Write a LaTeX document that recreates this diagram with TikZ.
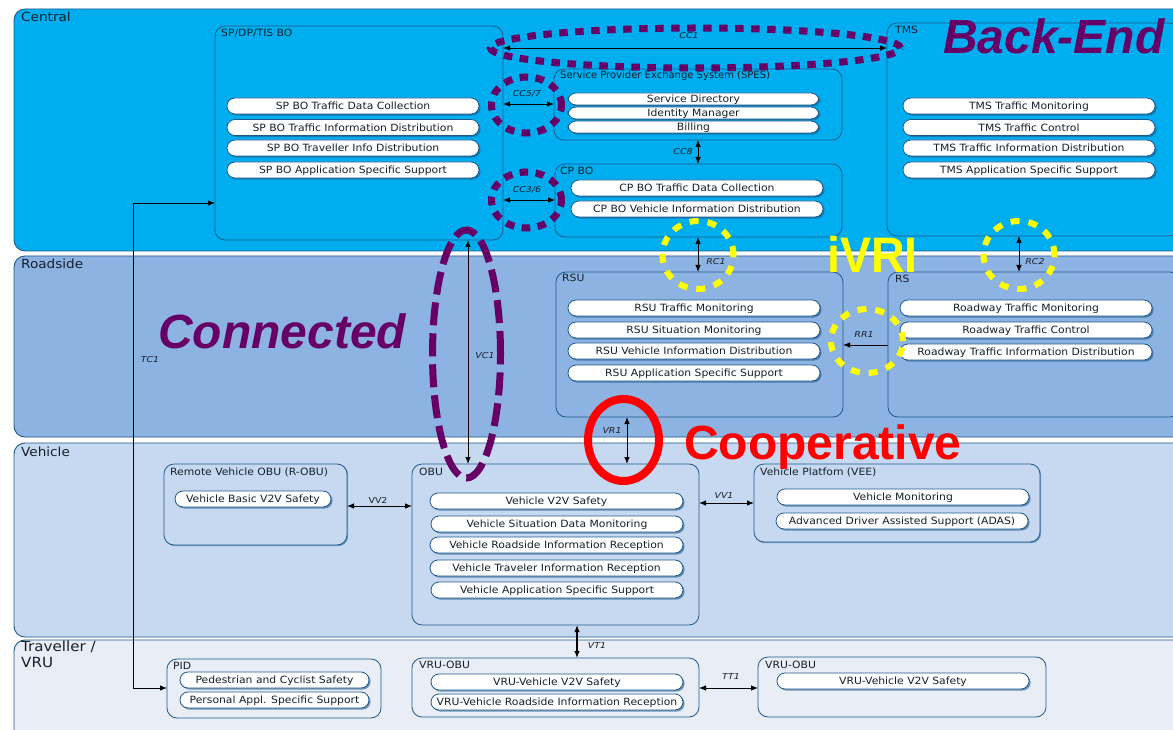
\documentclass[tikz,border=0pt]{standalone}
\usepackage{fontspec}
\setmainfont{DejaVu Sans}
\newfontfamily\bigfont{Liberation Sans}
\newfontfamily\wideface[FakeStretch=1.08]{DejaVu Sans}
\newfontfamily\widerface[FakeStretch=1.15]{DejaVu Sans}
\usetikzlibrary{arrows.meta,shadows}
\definecolor{cCentral}{HTML}{00AEEF}
\definecolor{cRoad}{HTML}{8DB3E2}
\definecolor{cVeh}{HTML}{C6D9F1}
\definecolor{cTrav}{HTML}{E9EEF6}
\definecolor{cEdge}{HTML}{1F5A8C}
\definecolor{cPurple}{HTML}{660066}
\definecolor{cInk}{HTML}{15202B}
\definecolor{cYel}{HTML}{FFFF00}
\tikzset{
  x=1pt,y=-1pt,
  band/.style={draw=cEdge,line width=0.9pt,rounded corners=11pt,inner sep=0,outer sep=0},
  sysbox/.style={draw=cEdge,line width=0.8pt,rounded corners=10pt,inner sep=0,outer sep=0},
  shadowbox/.style={sysbox,fill=cVeh,drop shadow={shadow xshift=1.2pt,shadow yshift=-1.2pt,fill=cEdge,opacity=.5}},
  pill/.style={draw=cEdge,fill=white,line width=0.8pt,rounded corners=8pt,inner sep=0,outer sep=0,
    text=cInk,font=\wideface\fontsize{10}{11}\selectfont,text height=7.6pt,text depth=0.4pt,
    drop shadow={shadow xshift=1.6pt,shadow yshift=-1.6pt,fill=cEdge,opacity=.6}},
  boxlabel/.style={anchor=west,inner sep=0,text=cInk,font=\wideface\fontsize{10}{11}\selectfont},
  bandlabel/.style={anchor=west,inner sep=0,text=cInk,font=\wideface\fontsize{12.6}{15}\selectfont,align=left},
  iflabel/.style={inner sep=0,text=cInk,font=\widerface\fontsize{8.2}{9}\selectfont\itshape},
  link/.style={draw=black,line width=0.8pt,{Latex[length=7pt,width=5.5pt]}-{Latex[length=7pt,width=5.5pt]}},
  linkone/.style={draw=black,line width=0.8pt,-{Latex[length=7pt,width=5.5pt]}},
  purpring/.style={draw=cPurple,line width=7pt,dash pattern=on 8.5pt off 7.5pt},
  purplong/.style={draw=cPurple,line width=7pt,dash pattern=on 23pt off 8pt},
  yelring/.style={draw=cYel,line width=6pt,dash pattern=on 9pt off 9pt},
  redring/.style={draw=red,line width=8pt},
  bigword/.style={inner sep=0,anchor=west,text depth=0pt,font=\fontsize{48}{50}\bigfont\bfseries},
}
\newcommand{\bx}[7][]{% name x1 y1 x2 y2 style
  \pgfmathsetmacro{\bw}{#5-#3}\pgfmathsetmacro{\bh}{#6-#4}
  \pgfmathsetmacro{\cxx}{(#5+#3)/2}\pgfmathsetmacro{\cyy}{(#6+#4)/2}
  \node[#7,minimum width=\bw pt,minimum height=\bh pt,#1] (#2) at (\cxx,\cyy) {};}
\newcommand{\pl}[6]{% name x1 x2 cy h text
  \pgfmathsetmacro{\bw}{#3-#2}\pgfmathsetmacro{\cxx}{(#3+#2)/2}
  \node[pill,minimum width=\bw pt,minimum height=#5 pt] (#1) at (\cxx,#4) {#6};}
\begin{document}
\begin{tikzpicture}
\useasboundingbox (0,0) rectangle (1173,730);
\clip (0,0) rectangle (1173,730);
\fill[white] (0,0) rectangle (1173,730);
% bands
\bx{bcentral}{14}{9}{1190}{251}{band,fill=cCentral}
\bx{broad}{14}{256}{1190}{437}{band,fill=cRoad}
\bx{bveh}{14}{443}{1190}{637}{band,fill=cVeh}
\bx{btrav}{14}{640}{1190}{750}{band,fill=cTrav}
\node[bandlabel] (lcentral) at (21,17) {Central};
\node[bandlabel] (lroad) at (21,264) {Roadside};
\node[bandlabel] (lveh) at (21,452) {Vehicle};
\node[bandlabel,anchor=north west,font=\wideface\fontsize{14}{15.5}\selectfont] (ltrav) at (21,641) {Traveller /\\VRU};
% boxes
\bx{sp}{215}{26}{503}{240}{sysbox}
\bx{spes}{554}{69}{842}{140}{sysbox}
\bx{cpbo}{555}{164}{842}{237}{sysbox}
\bx{tms}{887}{23}{1180}{236}{sysbox}
\bx{rsu}{556}{272}{843}{417}{sysbox}
\bx{rs}{888}{272}{1180}{417}{sysbox}
\bx{robu}{164}{464}{347}{545}{shadowbox}
\bx{obu}{412}{464}{699}{625}{sysbox}
\bx{vee}{754}{464}{1040}{542}{shadowbox}
\bx{pid}{167}{659}{381}{718}{sysbox}
\bx{vruone}{412}{658}{699}{717}{sysbox}
\bx{vrutwo}{758}{657}{1046}{717}{sysbox}
\node[boxlabel] (tsp) at (221,33) {SP/DP/TIS BO};
\node[boxlabel,font=\fontsize{10}{11}\selectfont] (tspes) at (560,76) {Service Provider Exchange System (SPES)};
\node[boxlabel] (tcp) at (560,171) {CP BO};
\node[boxlabel] (ttms) at (895,30) {TMS};
\node[boxlabel] (trsu) at (562,278) {RSU};
\node[boxlabel] (trs) at (895,279) {RS};
\node[boxlabel] (trobu) at (170,472) {Remote Vehicle OBU (R-OBU)};
\node[boxlabel] (tobu) at (419,472) {OBU};
\node[boxlabel] (tvee) at (760,472) {Vehicle Platfom (VEE)};
\node[boxlabel] (tpid) at (173,666) {PID};
\node[boxlabel] (tvone) at (419,665) {VRU-OBU};
\node[boxlabel] (tvtwo) at (765,665) {VRU-OBU};
% pills
\pl{a1}{227}{479}{106}{16}{SP BO Traffic Data Collection}
\pl{a2}{227}{479}{127.5}{16}{SP BO Traffic Information Distribution}
\pl{a3}{227}{479}{148}{16}{SP BO Traveller Info Distribution}
\pl{a4}{227}{479}{170}{16}{SP BO Application Specific Support}
\pl{b1}{568}{819}{99}{12}{Service Directory}
\pl{b2}{568}{819}{113}{12}{Identity Manager}
\pl{b3}{568}{819}{127}{12}{Billing}
\pl{c1}{571}{823}{188}{16}{CP BO Traffic Data Collection}
\pl{c2}{571}{823}{209}{16}{CP BO Vehicle Information Distribution}
\pl{d1}{903}{1155}{106}{16}{TMS Traffic Monitoring}
\pl{d2}{903}{1155}{127.5}{16}{TMS Traffic Control}
\pl{d3}{903}{1155}{148}{16}{TMS Traffic Information Distribution}
\pl{d4}{903}{1155}{170}{16}{TMS Application Specific Support}
\pl{e1}{568}{820}{308}{16}{RSU Traffic Monitoring}
\pl{e2}{568}{820}{330}{16}{RSU Situation Monitoring}
\pl{e3}{568}{820}{351}{16}{RSU Vehicle Information Distribution}
\pl{e4}{568}{820}{373}{16}{RSU Application Specific Support}
\pl{f1}{900}{1152}{308}{16}{Roadway Traffic Monitoring}
\pl{f2}{900}{1152}{330}{16}{Roadway Traffic Control}
\pl{f3}{900}{1152}{352}{16}{Roadway Traffic Information Distribution}
\pl{g1}{175}{331}{499}{16}{Vehicle Basic V2V Safety}
\pl{h1}{430}{683}{501}{16}{Vehicle V2V Safety}
\pl{h2}{431}{683}{524}{16}{Vehicle Situation Data Monitoring}
\pl{h3}{430}{683}{545}{16}{Vehicle Roadside Information Reception}
\pl{h4}{430}{683}{568}{16}{Vehicle Traveler Information Reception}
\pl{h5}{431}{683}{590}{16}{Vehicle Application Specific Support}
\pl{i1}{777}{1029}{497}{16}{Vehicle Monitoring}
\pl{i2}{776}{1028}{521}{16}{Advanced Driver Assisted Support (ADAS)}
\pl{j1}{180}{369}{680}{16}{Pedestrian and Cyclist Safety}
\pl{j2}{180}{369}{700}{16}{Personal Appl. Specific Support}
\pl{k1}{431}{683}{682}{16}{VRU-Vehicle V2V Safety}
\pl{k2}{431}{683}{702}{16}{VRU-Vehicle Roadside Information Reception}
\pl{m1}{777}{1029}{681}{16}{VRU-Vehicle V2V Safety}
% connectors
\draw[link] (sp.east |- 0,48) -- (tms.west |- 0,48);
\draw[link] (sp.east |- 0,104) -- (spes.west |- 0,104);
\draw[link] (sp.east |- 0,200) -- (cpbo.west |- 0,200);
\draw[link] (spes.south -| 698,0) -- (cpbo.north -| 698,0);
\draw[link] (cpbo.south -| 698,0) -- (rsu.north -| 698,0);
\draw[link] (tms.south -| 1019,0) -- (rs.north -| 1019,0);
\draw[linkone] (rs.west |- 0,345) -- (rsu.east |- 0,345);
\draw[link] (sp.south -| 468,0) -- (obu.north -| 468,0);
\draw[link] (rsu.south -| 627,0) -- (obu.north -| 627,0);
\draw[link] (obu.east |- 0,503) -- (vee.west |- 0,503);
\draw[link] (robu.east |- 0,506) -- (obu.west |- 0,506);
\draw[link,line width=1.2pt] (obu.south -| 577,0) -- (vruone.north -| 577,0);
\draw[link] (vruone.east |- 0,688) -- (vrutwo.west |- 0,688);
\coordinate (tcjoint) at (133,203);
\coordinate (tcjointb) at (133,688);
\draw[link] (sp.west |- tcjoint) -- (tcjoint) -- (tcjointb) -- (pid.west |- tcjointb);
% connector labels
\node[iflabel] (lcc1) at (689,36) {CC1};
\node[iflabel] (lcc5) at (527,94) {CC5/7};
\node[iflabel] (lcc3) at (527,190) {CC3/6};
\node[iflabel] (lcc8) at (683,152) {CC8};
\node[iflabel] (lrc1) at (716,262) {RC1};
\node[iflabel] (lrc2) at (1035,262) {RC2};
\node[iflabel] (lrr1) at (864,335) {RR1};
\node[iflabel] (lvc1) at (485,356) {VC1};
\node[iflabel] (lvr1) at (612,431) {VR1};
\node[iflabel] (lvv1) at (724,496) {VV1};
\node[iflabel,font=\widerface\fontsize{8.2}{9}\selectfont] (lvv2) at (378,500) {VV2};
\node[iflabel] (lvt1) at (597,646) {VT1};
\node[iflabel] (ltt1) at (731,677) {TT1};
\node[iflabel] (ltc1) at (150,360) {TC1};
% highlight rings
\draw[purpring] (695.5,48) ellipse (205pt and 20pt);
\draw[purpring] (526.5,105) ellipse (35pt and 28pt);
\draw[purpring] (526.5,200) ellipse (35pt and 28pt);
\draw[purplong] (466.5,354) ellipse (34pt and 124pt);
\draw[yelring] (698,255) ellipse (35.5pt and 34pt);
\draw[yelring] (1019,255) ellipse (35.5pt and 34pt);
\draw[yelring] (867,341) ellipse (36pt and 32pt);
\draw[redring] (623.5,440) ellipse (35.5pt and 41pt);
% headline words
\node[bigword,text=cPurple] (wback) at (943,36) {\itshape Back-End};
\node[bigword,text=cPurple] (wconn) at (158,331) {\itshape Connected};
\node[bigword,text=red] (wcoop) at (684,442) {Cooperative};
\node[bigword,text=cYel] (wivri) at (827,254) {\scalebox{0.97}[1.04]{iVRI}};
\end{tikzpicture}
\end{document}
